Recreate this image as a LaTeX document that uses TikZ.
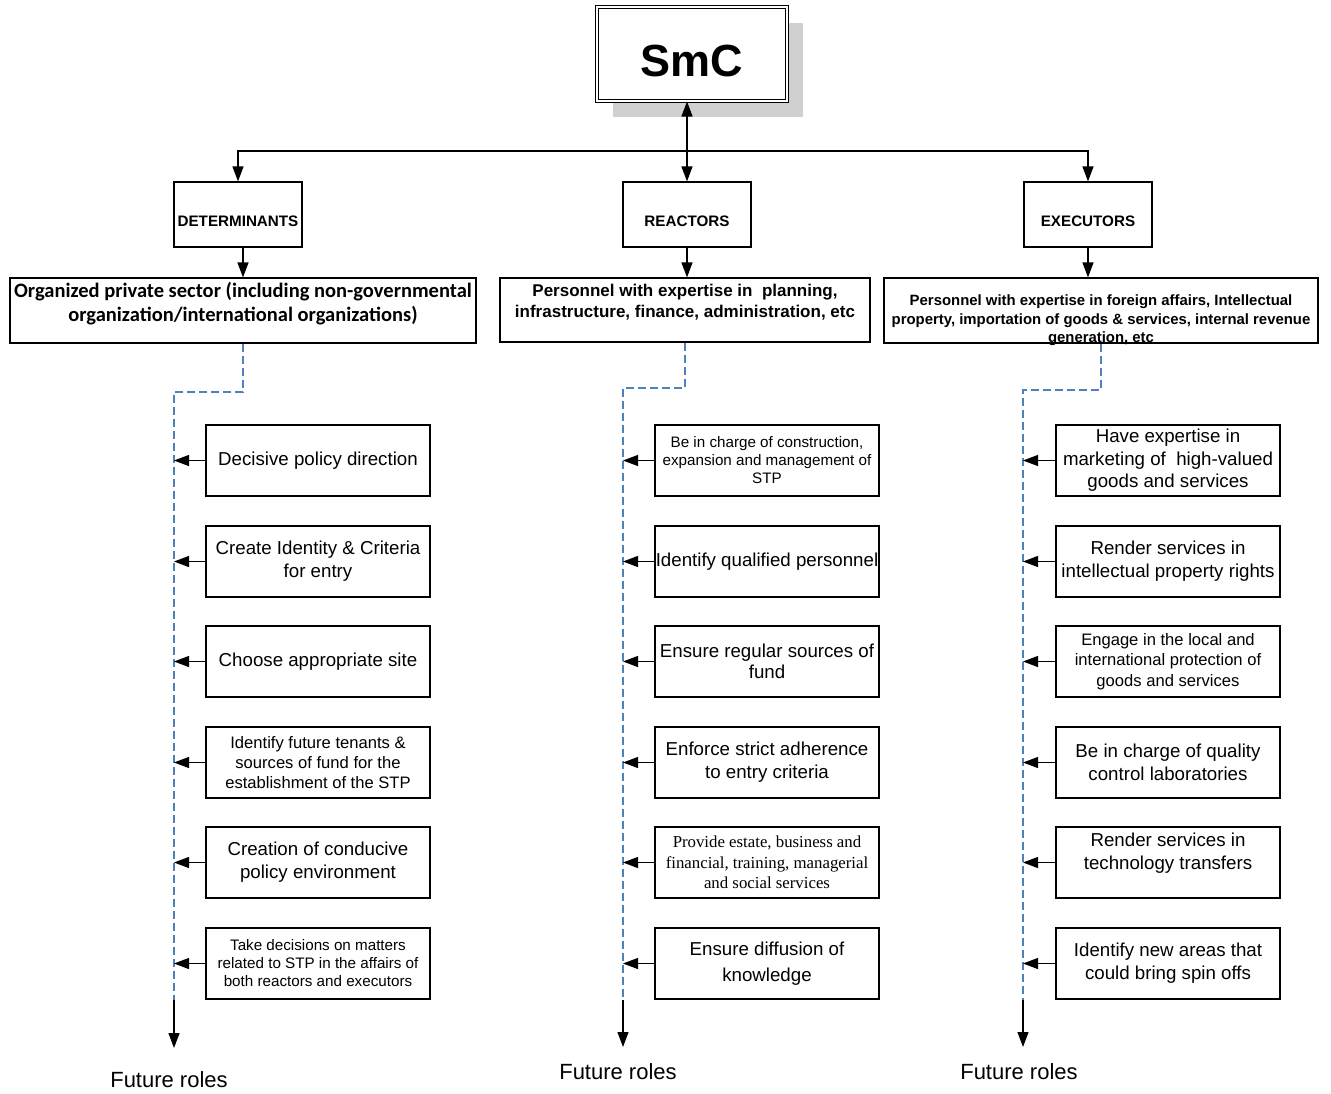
\documentclass[tikz,border=0pt]{standalone}
\usepackage{fontspec}
\setmainfont{Liberation Sans}
\newfontfamily\calib{Carlito}
\newfontfamily\tms{Liberation Serif}
\usetikzlibrary{arrows.meta,shadows}
\definecolor{dashc}{RGB}{79,129,189}
\definecolor{shd}{RGB}{208,208,208}
\begin{document}
\begin{tikzpicture}[x=1pt,y=-1pt,
  smcbox/.style={draw, line width=1pt, double=white, double distance=2pt, fill=white,
    minimum width=190pt, minimum height=94pt, inner sep=0pt,
    drop shadow={shadow xshift=16pt, shadow yshift=-16pt, fill=shd, opacity=1},
    font=\fontsize{45}{50}\selectfont\bfseries},
  hdr/.style={draw, line width=1.2pt, minimum width=128pt, minimum height=65pt, inner sep=0pt,
    font=\fontsize{15.2}{18}\selectfont\bfseries},
  box2/.style={draw, line width=1.2pt, minimum height=65pt, inner sep=0pt},
  txt/.style={inner sep=0pt, align=center},
  item/.style={draw, line width=1.2pt, minimum width=224pt, minimum height=71pt, inner sep=0pt,
    align=center, font=\fontsize{18.7}{23}\selectfont},
  smallf/.style={font=\fontsize{15.2}{18}\selectfont},
  midf/.style={font=\fontsize{16.6}{20.3}\selectfont},
  arr/.style={line width=1.2pt, -{Triangle[length=15pt,width=11pt]}},
  darr/.style={line width=1.2pt, {Triangle[length=15pt,width=11pt]}-{Triangle[length=15pt,width=11pt]}},
  dsh/.style={draw=dashc, line width=1.1pt, dash pattern=on 8pt off 4pt},
  fr/.style={inner sep=0pt, font=\fontsize{22}{26}\selectfont}
]
\useasboundingbox (0,0) rectangle (1331,1093);

% top
\node[smcbox] (smc) at (692,54) {\raisebox{-7pt}[\height][\depth]{SmC}};

% headers
\node[hdr] (det) at (238,214.5) {\raisebox{-7pt}[\height][\depth]{DETERMINANTS}};
\node[hdr] (reac) at (687,214.5) {\raisebox{-7pt}[\height][\depth]{REACTORS}};
\node[hdr] (exe) at (1088,214.5) {\raisebox{-7pt}[\height][\depth]{EXECUTORS}};

% second row
\node[box2, minimum width=466pt] (org) at (243,310.5) {};
\node[txt, font=\fontsize{20.5}{24}\selectfont\calib\bfseries] (orgt) at (243,304)
  {Organized private sector (including non-governmental\\organization/international organizations)};
\node[box2, minimum width=370pt, minimum height=64pt] (rp) at (685,310) {};
\node[txt, font=\fontsize{17}{21}\selectfont\bfseries] (rpt) at (685,302.5)
  {Personnel with expertise in \ planning,\\infrastructure, finance, administration, etc};
\node[box2, minimum width=434pt] (ep) at (1101,310.5) {};
\node[txt, font=\fontsize{14.9}{18.5}\selectfont\bfseries] (ept) at (1101,320.5)
  {Personnel with expertise in foreign affairs, Intellectual\\property, importation of goods \& services, internal revenue\\generation, etc};

% top connectors
\coordinate (hub) at (reac.north |- 0,151);
\draw[darr] (reac.north |- smc.south) -- (reac.north);
\draw[arr] (hub) -| (det.north);
\draw[arr] (hub) -| (exe.north);
\draw[arr] (det.south -| org.north) -- (org.north);
\draw[arr] (reac.south) -- (reac.south |- rp.north);
\draw[arr] (exe.south) -- (exe.south |- ep.north);

% left column items
\node[item] (L1) at (318,460.5) {Decisive policy direction};
\node[item] (L2) at (318,561.5) {Create Identity \& Criteria\\for entry};
\node[item] (L3) at (318,661.5) {Choose appropriate site};
\node[item, midf] (L4) at (318,762.5) {Identify future tenants \&\\sources of fund for the\\establishment of the STP};
\node[item] (L5) at (318,862.5) {Creation of conducive\\policy environment};
\node[item, smallf] (L6) at (318,963.5) {Take decisions on matters\\related to STP in the affairs of\\both reactors and executors};

% middle column items
\node[item, smallf] (M1) at (767,460.5) {Be in charge of construction,\\expansion and management of\\STP};
\node[item] (M2) at (767,561.5) {Identify qualified personnel};
\node[item, font=\fontsize{18.7}{21.5}\selectfont] (M3) at (767,661.5) {Ensure regular sources of\\fund};
\node[item] (M4) at (767,762.5) {Enforce strict adherence\\to entry criteria};
\node[item, font=\fontsize{16.8}{20.5}\selectfont\tms] (M5) at (767,862.5) {Provide estate, business and\\financial, training, managerial\\and social services};
\node[item, font=\fontsize{18.7}{26}\selectfont] (M6) at (767,963.5) {Ensure diffusion of\\knowledge};

% right column items
\node[item, font=\fontsize{18.7}{22.5}\selectfont] (R1) at (1168,460.5) {Have expertise in\\marketing of \ high-valued\\goods and services};
\node[item] (R2) at (1168,561.5) {Render services in\\intellectual property rights};
\node[item, midf] (R3) at (1168,661.5) {Engage in the local and\\international protection of\\goods and services};
\node[item] (R4) at (1168,762.5) {Be in charge of quality\\control laboratories};
\node[item] (R5) at (1168,862.5) {};
\node[txt, font=\fontsize{18.7}{23}\selectfont] (R5t) at (1168,853) {Render services in\\technology transfers};
\node[item] (R6) at (1168,963.5) {Identify new areas that\\could bring spin offs};

% spines
\coordinate (jL) at (174,392);
\coordinate (sL) at (174,1000);
\coordinate (eL) at (174,1048);
\coordinate (jM) at (623,388);
\coordinate (sM) at (623,1000);
\coordinate (eM) at (623,1047);
\coordinate (jR) at (1023,390);
\coordinate (sR) at (1023,1000);
\coordinate (eR) at (1023,1047);

\draw[dsh] (org.south) |- (jL) -- (sL);
\draw[dsh] (rp.south) |- (jM) -- (sM);
\draw[dsh] (ep.south) |- (jR) -- (sR);
\draw[arr] (sL) -- (eL);
\draw[arr] (sM) -- (eM);
\draw[arr] (sR) -- (eR);

\foreach \i in {1,...,6} {
  \draw[arr] (L\i.west) -- (L\i.west -| jL);
  \draw[arr] (M\i.west) -- (M\i.west -| jM);
  \draw[arr] (R\i.west) -- (R\i.west -| jR);
}

% future roles
\node[fr] (frL) at (169,1080) {Future roles};
\node[fr] (frM) at (618,1072) {Future roles};
\node[fr] (frR) at (1019,1072) {Future roles};
\end{tikzpicture}
\end{document}
